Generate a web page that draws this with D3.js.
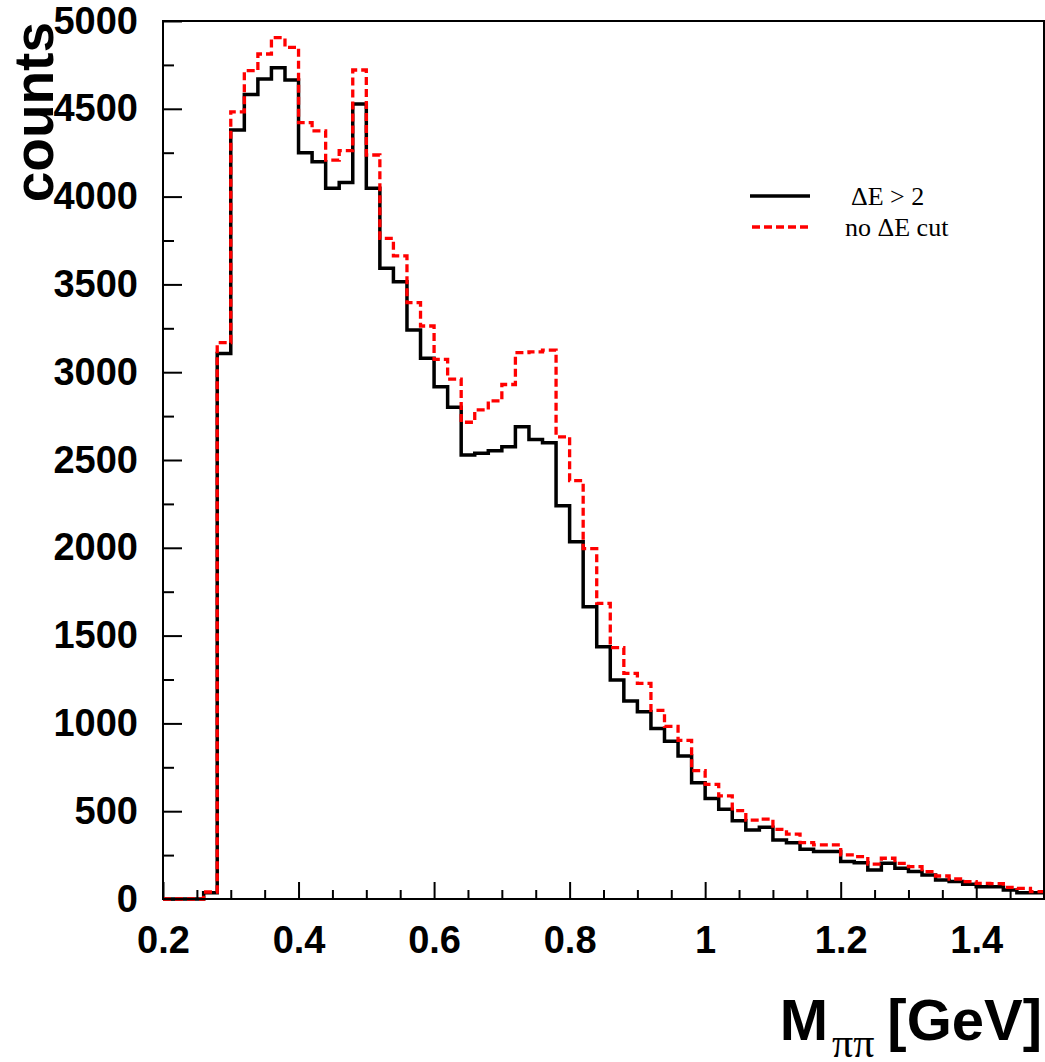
<!DOCTYPE html>
<meta charset="utf-8">
<head>
  <title>M pipi spectrum</title>
</head>
<style>
body { margin: 0; background: #fff; }
.tick text { font-family: "Liberation Sans", Arial, sans-serif; font-weight: bold; font-size: 38px; fill: #000; }
.tick line { stroke: #000; stroke-width: 2px; }
</style>
<body>
<script src="https://d3js.org/d3.v7.min.js"></script>
<script>

// bins: 0.02 GeV wide, from 0.20 to 1.50
var xMin = 0.2, xMax = 1.5, binWidth = 0.02;

// counts with Delta E > 2 (black, solid)
var cutCounts = [0, 0, 0, 36, 3107, 4379, 4582, 4670, 4734, 4664,
  4250, 4199, 4047, 4081, 4527, 4047, 3592, 3515, 3240, 3079,
  2917, 2800, 2528, 2538, 2553, 2576, 2690, 2617, 2598, 2240,
  2035, 1665, 1437, 1247, 1127, 1066, 971, 899, 814, 662,
  573, 511, 446, 393, 408, 336, 321, 283, 270, 270,
  213, 207, 165, 203, 175, 156, 137, 108, 99, 84,
  70, 70, 51, 36, 36];

// counts without Delta E cut (red, dashed)
var noCutCounts = [0, 0, 0, 40, 3168, 4483, 4717, 4812, 4905, 4850,
  4421, 4374, 4208, 4262, 4721, 4237, 3762, 3662, 3396, 3263,
  3073, 2961, 2715, 2785, 2837, 2930, 3111, 3116, 3126, 2632,
  2382, 1995, 1683, 1431, 1285, 1228, 1074, 983, 903, 731,
  653, 587, 503, 449, 455, 397, 370, 321, 308, 308,
  251, 241, 199, 232, 203, 184, 156, 131, 114, 99,
  89, 88, 66, 61, 42];

var xMajorTicks = [0.2, 0.4, 0.6, 0.8, 1.0, 1.2, 1.4];
var xMinorTicks = [0.25, 0.3, 0.35, 0.45, 0.5, 0.55, 0.65, 0.7, 0.75, 0.85, 0.9, 0.95,
  1.05, 1.1, 1.15, 1.25, 1.3, 1.35, 1.45];
var yMajorTicks = [0, 500, 1000, 1500, 2000, 2500, 3000, 3500, 4000, 4500, 5000];
var yMinorTicks = [250, 750, 1250, 1750, 2250, 2750, 3250, 3750, 4250, 4750];

var legendLabels = ["\u0394E > 2", "no \u0394E cut"];

var width = 1045, height = 1062;
// frame of the plot area (top is taken by window.top, so own names)
var pLeft = 163, pRight = 1044, pTop = 21, pBottom = 899;

var svg = d3.select("body").append("svg")
  .attr("width", width)
  .attr("height", height);

var x = d3.scaleLinear().domain([xMin, xMax]).range([pLeft, pRight]);
var y = d3.scaleLinear().domain([0, 5000]).range([pBottom, pTop]);

// step outline like a root histogram
function histPoints(counts) {
  var pts = counts.map(function(c, i) { return [xMin + i * binWidth, c]; });
  pts.push([xMax, counts[counts.length - 1]]);
  return pts;
}
var line = d3.line()
  .x(function(d) { return x(d[0]); })
  .y(function(d) { return y(d[1]); })
  .curve(d3.curveStepAfter);

// axes, ticks pointing inwards
var gx = svg.append("g").attr("transform", "translate(0," + pBottom + ")");
gx.call(d3.axisBottom(x).tickValues(xMajorTicks).tickSize(-17).tickPadding(27)
  .tickFormat(d3.format("~g")));
gx.select(".domain").remove();
var gxm = svg.append("g").attr("transform", "translate(0," + pBottom + ")");
gxm.call(d3.axisBottom(x).tickValues(xMinorTicks).tickSize(-9).tickFormat(""));
gxm.select(".domain").remove();

var gy = svg.append("g").attr("transform", "translate(" + pLeft + ",0)");
gy.call(d3.axisLeft(y).tickValues(yMajorTicks).tickSize(-19).tickPadding(25)
  .tickFormat(d3.format("d")));
gy.select(".domain").remove();
var gym = svg.append("g").attr("transform", "translate(" + pLeft + ",0)");
gym.call(d3.axisLeft(y).tickValues(yMinorTicks).tickSize(-11).tickFormat(""));
gym.select(".domain").remove();

// histograms
svg.append("path")
  .attr("d", line(histPoints(cutCounts)))
  .attr("fill", "none")
  .attr("stroke", "#000")
  .attr("stroke-width", 3.5);
svg.append("path")
  .attr("d", line(histPoints(noCutCounts)))
  .attr("fill", "none")
  .attr("stroke", "#ff0000")
  .attr("stroke-width", 3.3)
  .attr("stroke-dasharray", "8,4");

// frame
svg.append("rect")
  .attr("x", pLeft).attr("y", pTop)
  .attr("width", pRight - pLeft).attr("height", pBottom - pTop)
  .attr("fill", "none").attr("stroke", "#000").attr("stroke-width", 2);

// legend
var leg = svg.append("g");
leg.append("line").attr("x1", 750).attr("x2", 810).attr("y1", 196).attr("y2", 196)
  .attr("stroke", "#000").attr("stroke-width", 3.5);
leg.append("line").attr("x1", 752).attr("x2", 810).attr("y1", 227).attr("y2", 227)
  .attr("stroke", "#ff0000").attr("stroke-width", 3.3).attr("stroke-dasharray", "8,4");
leg.selectAll("text.lab")
  .data(legendLabels)
  .enter().append("text")
  .attr("class", "lab")
  .attr("x", function(d, i) { return i == 0 ? 851 : 845; })
  .attr("y", function(d, i) { return i == 0 ? 205 : 236; })
  .style("font-family", "'Liberation Serif', 'Times New Roman', serif")
  .style("font-size", "26px")
  .text(function(d) { return d; });

// axis titles
svg.append("text")
  .attr("transform", "translate(53,22) rotate(-90)")
  .attr("text-anchor", "end")
  .style("font-family", "'Liberation Sans', Arial, sans-serif")
  .style("font-weight", "bold")
  .style("font-size", "55px")
  .text("counts");

var xt = svg.append("g")
  .style("font-family", "'Liberation Sans', Arial, sans-serif")
  .style("font-weight", "bold");
xt.append("text").attr("x", 828).attr("y", 1040).attr("text-anchor", "end")
  .style("font-size", "58px").text("M");
xt.append("text").attr("x", 832).attr("y", 1057)
  .style("font-family", "'Liberation Serif', 'Times New Roman', serif")
  .style("font-weight", "normal")
  .style("font-size", "42px").text("\u03c0\u03c0");
xt.append("text").attr("x", 1042).attr("y", 1040).attr("text-anchor", "end")
  .style("font-size", "58px").text("[GeV]");

</script>
</body>
